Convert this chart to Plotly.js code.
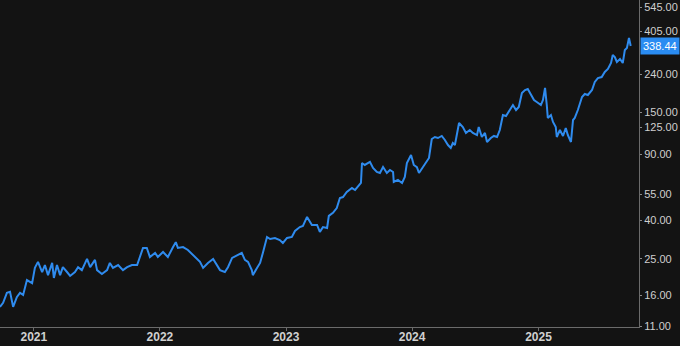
<!DOCTYPE html>
<html>
<head>
<meta charset="utf-8">
<script src="https://cdn.plot.ly/plotly-3.0.1.min.js"></script>
<style>
  html, body { margin: 0; padding: 0; background: #131313; }
  #chart { width: 680px; height: 346px; }
</style>
</head>
<body>
<div id="chart"></div>
<script>
const dates = [
"2020-09-25","2020-10-04","2020-10-15","2020-10-24","2020-11-02","2020-11-13","2020-11-22","2020-12-01","2020-12-12","2020-12-27",
"2021-01-04","2021-01-13","2021-01-25","2021-02-02","2021-02-11","2021-02-23","2021-02-28","2021-03-09","2021-03-18","2021-03-26",
"2021-04-07","2021-04-16","2021-04-30","2021-05-09","2021-05-20","2021-06-04","2021-06-13","2021-06-27","2021-07-03","2021-07-17",
"2021-08-01","2021-08-09","2021-08-18","2021-09-02","2021-09-16","2021-09-28","2021-10-12","2021-10-27","2021-11-04","2021-11-13",
"2021-11-24","2021-12-03","2021-12-18","2021-12-26","2022-01-10","2022-01-24","2022-02-08","2022-02-16","2022-02-22","2022-03-09",
"2022-03-23","2022-04-07","2022-04-18","2022-04-27","2022-05-06","2022-05-20","2022-06-04","2022-06-15","2022-06-24","2022-07-08",
"2022-07-17","2022-07-29","2022-08-12","2022-08-26","2022-09-04","2022-09-13","2022-09-24","2022-09-27","2022-10-09","2022-10-18",
"2022-10-26","2022-11-07","2022-11-16","2022-11-30","2022-12-14","2022-12-23","2023-01-04","2023-01-18","2023-01-27","2023-02-10",
"2023-02-19","2023-03-03","2023-03-17","2023-04-01","2023-04-09","2023-04-18","2023-04-30","2023-05-05","2023-05-17","2023-05-28",
"2023-06-06","2023-06-15","2023-06-26","2023-07-11","2023-07-20","2023-07-28","2023-08-06","2023-08-09","2023-08-17","2023-09-01",
"2023-09-10","2023-09-21","2023-09-30","2023-10-09","2023-10-20","2023-10-29","2023-11-07","2023-11-09","2023-11-21","2023-12-03",
"2023-12-11","2023-12-17","2023-12-29","2024-01-06","2024-01-15","2024-01-21","2024-02-01","2024-02-13","2024-02-19","2024-02-27",
"2024-03-07","2024-03-16","2024-03-27","2024-04-05","2024-04-14","2024-04-22","2024-04-28","2024-05-04","2024-05-10","2024-05-16",
"2024-05-27","2024-06-05","2024-06-16","2024-06-25","2024-07-07","2024-07-12","2024-07-21","2024-07-30","2024-08-05","2024-08-16",
"2024-08-25","2024-09-03","2024-09-11","2024-09-20","2024-09-29","2024-10-07","2024-10-19","2024-10-28","2024-11-05","2024-11-14",
"2024-11-23","2024-12-01","2024-12-10","2024-12-19","2024-12-27","2025-01-08","2025-01-14","2025-01-20","2025-01-25","2025-01-28",
"2025-02-06","2025-02-12","2025-02-20","2025-02-23","2025-03-04","2025-03-13","2025-03-21","2025-03-27","2025-04-05","2025-04-11",
"2025-04-16","2025-04-25","2025-05-07","2025-05-15","2025-05-24","2025-06-05","2025-06-13","2025-06-22","2025-07-03","2025-07-12",
"2025-07-21","2025-07-30","2025-08-04","2025-08-10","2025-08-16","2025-08-25","2025-09-02","2025-09-08","2025-09-14","2025-09-20",
"2025-09-25"
];
const prices = [
13.9,14.6,16.5,16.7,13.9,15.7,16.5,16.1,19.3,18.6,
22.4,24.1,21.3,23.2,20.5,23.8,19.8,23.2,20.5,22.6,
21.3,20.3,21.3,22.6,21.8,25.0,22.6,24.7,21.8,20.8,
21.8,23.8,22.4,23.2,21.8,22.6,23.2,23.2,25.6,28.6,
28.6,25.6,26.9,25.6,27.2,25.6,28.9,30.7,28.6,28.9,
27.9,26.2,25.3,24.1,22.4,23.8,25.0,23.2,21.8,21.3,
22.6,25.3,26.2,26.9,24.7,24.1,21.8,20.5,22.4,23.8,
26.9,32.7,31.9,32.3,31.5,30.4,32.3,32.7,35.2,36.9,
37.4,41.8,37.9,37.9,34.8,36.9,36.5,42.3,43.9,46.6,
52.7,53.3,56.7,59.5,58.1,60.3,63.3,80.8,78.9,81.9,
76.0,72.4,71.5,76.9,71.5,74.2,72.4,64.1,65.7,63.3,
68.1,80.8,89.2,78.9,76.9,71.5,76.9,81.9,86.0,108.4,
111.1,109.7,112.5,107.1,100.7,97.1,103.2,100.7,116.7,131.9,
125.6,116.7,121.0,116.7,113.8,125.6,111.1,116.7,104.5,109.7,
112.5,111.1,121.0,145.4,143.7,150.8,164.3,154.6,160.4,190.3,
197.4,199.8,185.7,174.7,170.5,164.3,174.7,202.4,164.3,140.2,
145.4,133.5,125.6,111.1,121.0,112.5,124.0,113.8,104.5,136.8,
140.2,154.6,181.2,188.0,185.7,197.4,217.7,228.6,231.4,246.1,
255.3,274.7,302.9,295.6,278.1,288.5,274.7,322.1,330.0,373.0,
338.44
];
const yTickValues = [11, 16, 25, 40, 55, 90, 125, 150, 240, 405, 545];
const yTickLabels = ["11.00","16.00","25.00","40.00","55.00","90.00","125.00","150.00","240.00","405.00","545.00"];

const lastPrice = prices[prices.length - 1];
const fontFamily = '"Liberation Sans", Arial, Helvetica, sans-serif';

const trace = {
  x: dates,
  y: prices,
  type: 'scatter',
  mode: 'lines',
  line: { color: '#2f8bee', width: 2 },
  hoverinfo: 'skip'
};

const layout = {
  width: 680,
  height: 346,
  margin: { l: 0, r: 41, t: 0, b: 19, pad: 0 },
  paper_bgcolor: '#131313',
  plot_bgcolor: '#131313',
  showlegend: false,
  font: { family: fontFamily, color: '#cfcfcf', size: 11 },
  xaxis: {
    type: 'date',
    range: ['2020-09-25', '2025-10-19'],
    showgrid: false,
    zeroline: false,
    showline: true,
    linecolor: '#6b6b6b',
    linewidth: 1,
    ticks: 'outside',
    ticklen: 3,
    tickcolor: '#6b6b6b',
    ticklabelstandoff: -4,
    tick0: '2021-01-01',
    dtick: 'M12',
    tickformat: '%Y',
    tickfont: { family: fontFamily, size: 12, color: '#d0d0d0', weight: 'bold' },
    fixedrange: true
  },
  yaxis: {
    type: 'log',
    side: 'right',
    range: [1.0362, 2.7736],
    showgrid: false,
    zeroline: false,
    showline: true,
    linecolor: '#6b6b6b',
    linewidth: 1,
    ticks: 'outside',
    ticklen: 2,
    tickcolor: '#8a8a8a',
    tickvals: yTickValues,
    ticktext: yTickLabels,
    tickfont: { family: fontFamily, size: 11, color: '#cfcfcf' },
    fixedrange: true
  },
  annotations: [{
    xref: 'paper',
    yref: 'y',
    x: 1,
    y: Math.log10(lastPrice),
    xanchor: 'left',
    yanchor: 'middle',
    xshift: 1,
    text: lastPrice.toFixed(2),
    showarrow: false,
    bgcolor: '#2a8cf2',
    borderpad: 2,
    font: { family: fontFamily, size: 11, color: '#ffffff' }
  }]
};

Plotly.newPlot('chart', [trace], layout, { displayModeBar: false, staticPlot: true });
</script>
</body>
</html>
